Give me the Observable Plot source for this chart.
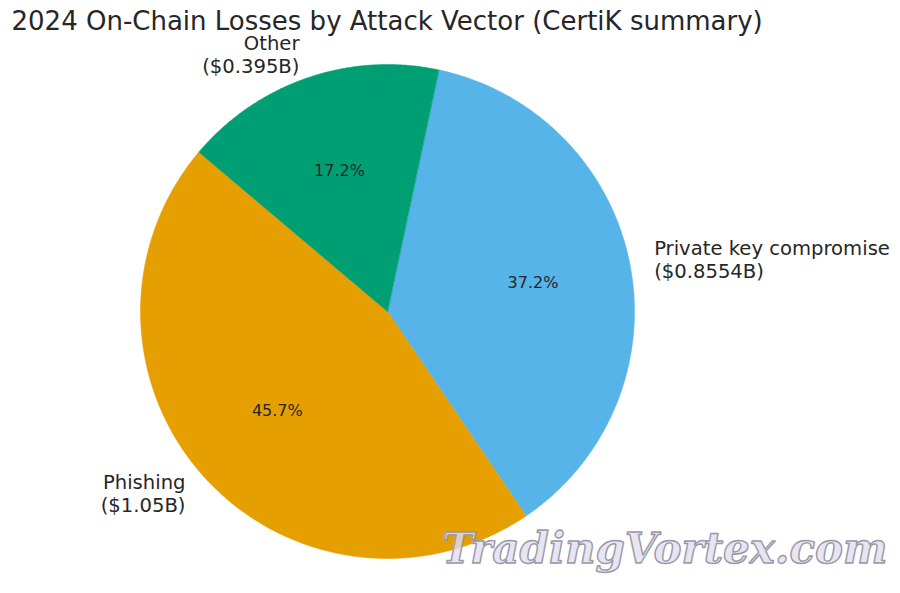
<!DOCTYPE html>
<html>
<head>
<meta charset="utf-8">
<script src="https://cdn.jsdelivr.net/npm/d3@7"></script>
<script src="https://cdn.jsdelivr.net/npm/@observablehq/plot@0.6"></script>
<style>
  html, body { margin: 0; padding: 0; background: #fff; }
  #chart svg { display: block; }
</style>
</head>
<body>
<div id="chart"></div>
<script>
// ---- data ----
const categories = ["Private key compromise", "Phishing", "Other"];
const valuesB = [0.8554, 1.05, 0.395];
const valueLabels = ["$0.8554B", "$1.05B", "$0.395B"];
const pctLabels = ["37.2%", "45.7%", "17.2%"];
const colors = ["#56B4E9", "#E69F00", "#009E73"];
const title = "2024 On-Chain Losses by Attack Vector (CertiK summary)";
const watermark = "TradingVortex.com";

// ---- layout (matplotlib-like pie: clockwise, start angle ~78°) ----
const startAngle = 78;
const total = d3.sum(valuesB);
let acc = startAngle;
const slices = categories.map((c, i) => {
  const span = valuesB[i] / total * 360;
  const a0 = acc, a1 = acc - span;
  acc = a1;
  return {category: c, value: valuesB[i], label: valueLabels[i], pct: pctLabels[i],
          color: colors[i], a0, a1, mid: (a0 + a1) / 2};
});
const rad = d => d * Math.PI / 180;
const wedgePoints = slices.map(s => {
  const pts = [{x: 0, y: 0}];
  const n = Math.ceil(Math.abs(s.a0 - s.a1) / 0.5);
  for (let k = 0; k <= n; k++) {
    const a = s.a0 + (s.a1 - s.a0) * k / n;
    pts.push({x: Math.cos(rad(a)), y: Math.sin(rad(a))});
  }
  return pts;
});

const textColor = "#262626";
const chart = Plot.plot({
  width: 900,
  height: 593,
  margin: 0,
  style: {fontFamily: "DejaVu Sans", background: "#fff"},
  x: {domain: [-1, 1], range: [140, 634], axis: null},
  y: {domain: [-1, 1], range: [558, 64], axis: null},
  marks: [
    ...wedgePoints.map((pts, i) =>
      Plot.line(pts, {x: "x", y: "y", fill: slices[i].color, stroke: slices[i].color, strokeWidth: 0.5, curve: "linear-closed"})
    ),
    Plot.text(slices, {
      x: s => 0.6 * Math.cos(rad(s.mid)),
      y: s => 0.6 * Math.sin(rad(s.mid)),
      text: "pct",
      fill: textColor, fontSize: 16, textAnchor: "middle", lineAnchor: "middle"
    }),
    Plot.text(slices.filter(s => Math.cos(rad(s.mid)) >= 0), {
      x: s => 1.1 * Math.cos(rad(s.mid)),
      y: s => 1.1 * Math.sin(rad(s.mid)),
      text: s => `${s.category}\n(${s.label})`,
      fill: textColor, fontSize: 19.6, lineHeight: 1.15, textAnchor: "start", lineAnchor: "middle"
    }),
    Plot.text(slices.filter(s => Math.cos(rad(s.mid)) < 0), {
      x: s => 1.1 * Math.cos(rad(s.mid)),
      y: s => 1.1 * Math.sin(rad(s.mid)),
      text: s => `${s.category}\n(${s.label})`,
      fill: textColor, fontSize: 19.6, lineHeight: 1.15, textAnchor: "end", lineAnchor: "middle"
    }),
    Plot.text([title], {
      frameAnchor: "top-left", dx: 11, dy: 11, text: d => d,
      textAnchor: "start", lineAnchor: "top", fontSize: 26, fill: textColor
    }),
    Plot.text([watermark], {
      frameAnchor: "bottom-right", dx: -13, dy: -31, text: d => d,
      textAnchor: "end", lineAnchor: "bottom",
      fontSize: 42, fontFamily: "DejaVu Serif", fontWeight: "bold", fontStyle: "italic",
      fill: "#e2def0", fillOpacity: 0.8, stroke: "#9a98a8", strokeWidth: 1.4, paintOrder: "fill"
    })
  ]
});
document.getElementById("chart").appendChild(chart);
</script>
</body>
</html>
